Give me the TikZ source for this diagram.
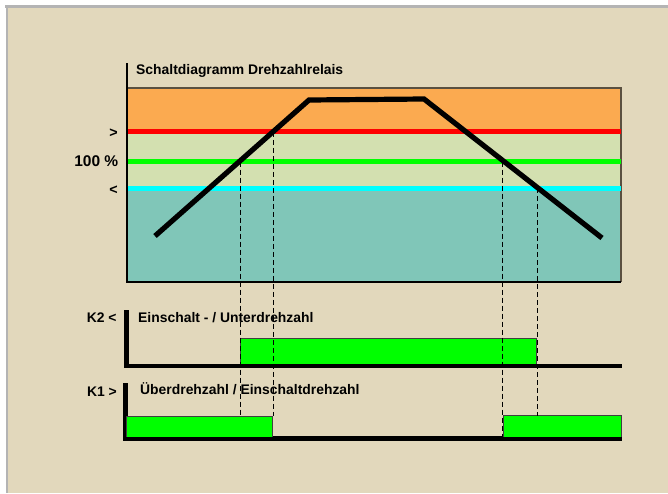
\documentclass[tikz,border=0pt]{standalone}
\usepackage{fontspec}
\setmainfont{Liberation Sans}
\definecolor{bgbeige}{RGB}{226,216,188}
\definecolor{frgray}{RGB}{180,180,180}
\definecolor{bandorange}{RGB}{251,170,80}
\definecolor{bandlight}{RGB}{211,224,176}
\definecolor{bandteal}{RGB}{128,198,184}
\definecolor{edgebrown}{RGB}{90,80,64}
\definecolor{brightgreen}{RGB}{0,255,0}
\definecolor{brightred}{RGB}{255,0,0}
\definecolor{brightcyan}{RGB}{0,255,255}
\begin{document}
\begin{tikzpicture}[x=1pt,y=-1pt,
  lbl/.style={font=\fontsize{13.9}{16}\selectfont\bfseries, inner sep=0pt, text=black},
  biglbl/.style={font=\fontsize{15.5}{18}\selectfont\bfseries, inner sep=0pt, text=black},
  level/.style={line width=5.2pt},
  guide/.style={line width=0.9pt, dash pattern=on 5pt off 3pt},
  boxedge/.style={draw=black!75, line width=0.9pt},
  relayaxis/.style={line width=4.6pt},
  speedline/.style={line width=5.2pt, line join=miter}]
\useasboundingbox (0,0) rectangle (668,493);
% background and frame
\fill[white] (0,0) rectangle (668,493);
\fill[bgbeige] (8,7.5) rectangle (668,493);
\fill[frgray] (5,5) rectangle (668,7.5);
\fill[frgray] (5.5,5) rectangle (8,493);
% chart bands
\fill[bandorange] (127,88) rectangle (621,131.8);
\fill[bandlight] (127,131.8) rectangle (621,188.3);
\fill[bandteal] (127,188.3) rectangle (621,282);
% chart frame
\draw[edgebrown, line width=1.2pt] (127,88) -- (621,88) -- (621,282);
\draw[black, line width=1.5pt] (127,282) -- (621,282);
\draw[black, line width=1.5pt] (127,63) -- (127,282.7);
% level lines
\draw[level, brightred] (127.7,131.8) -- (621,131.8);
\draw[level, brightgreen] (127.7,161.5) -- (621,161.5);
\draw[level, brightcyan] (127.7,188.3) -- (621,188.3);
% speed curve
\coordinate (p0) at (155,236);
\coordinate (p1) at (309,100);
\coordinate (p2) at (424,99);
\coordinate (p3) at (602,238);
\draw[speedline] (p0) -- (p1) -- (p2) -- (p3);
% relay K2
\draw[relayaxis, line width=5pt] (126.8,310) -- (126.8,368.4);
\draw[relayaxis, line width=4.4pt] (124.3,366.2) -- (622,366.2);
\fill[brightgreen] (240,338) rectangle (536.7,364.3);
\draw[boxedge] (240,364.3) -- (240,338) -- (536.7,338) -- (536.7,364.3);
% relay K1
\draw[relayaxis, line width=4.7pt] (125.7,383.3) -- (125.7,440.7);
\draw[relayaxis, line width=4.5pt] (123.3,438.5) -- (621.5,438.5);
\fill[brightgreen] (126.7,416.3) rectangle (272.7,436.5);
\draw[boxedge] (126.7,436.5) -- (126.7,416.3) -- (272.7,416.3) -- (272.7,436.5);
\fill[brightgreen] (503.3,415.7) rectangle (621.5,436.5);
\draw[boxedge] (503.3,436.5) -- (503.3,415.7) -- (621.5,415.7) -- (621.5,436.5);
% guide lines
\coordinate (g1a) at (240.3,161.5);  \coordinate (g1b) at (240.3,415);
\coordinate (g2a) at (273.2,131.8);  \coordinate (g2b) at (273.2,416.3);
\coordinate (g3a) at (502.3,161.5);  \coordinate (g3b) at (502.3,437);
\coordinate (g4a) at (537.3,188.3);  \coordinate (g4b) at (537.3,415.7);
\draw[guide] (g1a) -- (g1b);
\draw[guide] (g2a) -- (g2b);
\draw[guide] (g3a) -- (g3b);
\draw[guide] (g4a) -- (g4b);
% texts
\node[lbl, anchor=base west] (title) at (136,74.5) {Schaltdiagramm Drehzahlrelais};
\node[lbl, anchor=base east, font=\fontsize{14.3}{16}\selectfont\bfseries] (lgt) at (118,137.5) {>};
\node[biglbl, anchor=base east] (l100) at (118.5,166.7) {100 \%};
\node[lbl, anchor=base east, font=\fontsize{14.3}{16}\selectfont\bfseries] (llt) at (118,194) {<};
\node[lbl, anchor=base east] (k2lbl) at (116.8,322.7) {K2 <};
\node[lbl, anchor=base west] (k2txt) at (138,322) {Einschalt - / Unterdrehzahl};
\node[lbl, anchor=base east] (k1lbl) at (117,396.7) {K1 >};
\node[lbl, anchor=base west] (k1txt) at (140,394.5) {Überdrehzahl / Einschaltdrehzahl};
\end{tikzpicture}
\end{document}
